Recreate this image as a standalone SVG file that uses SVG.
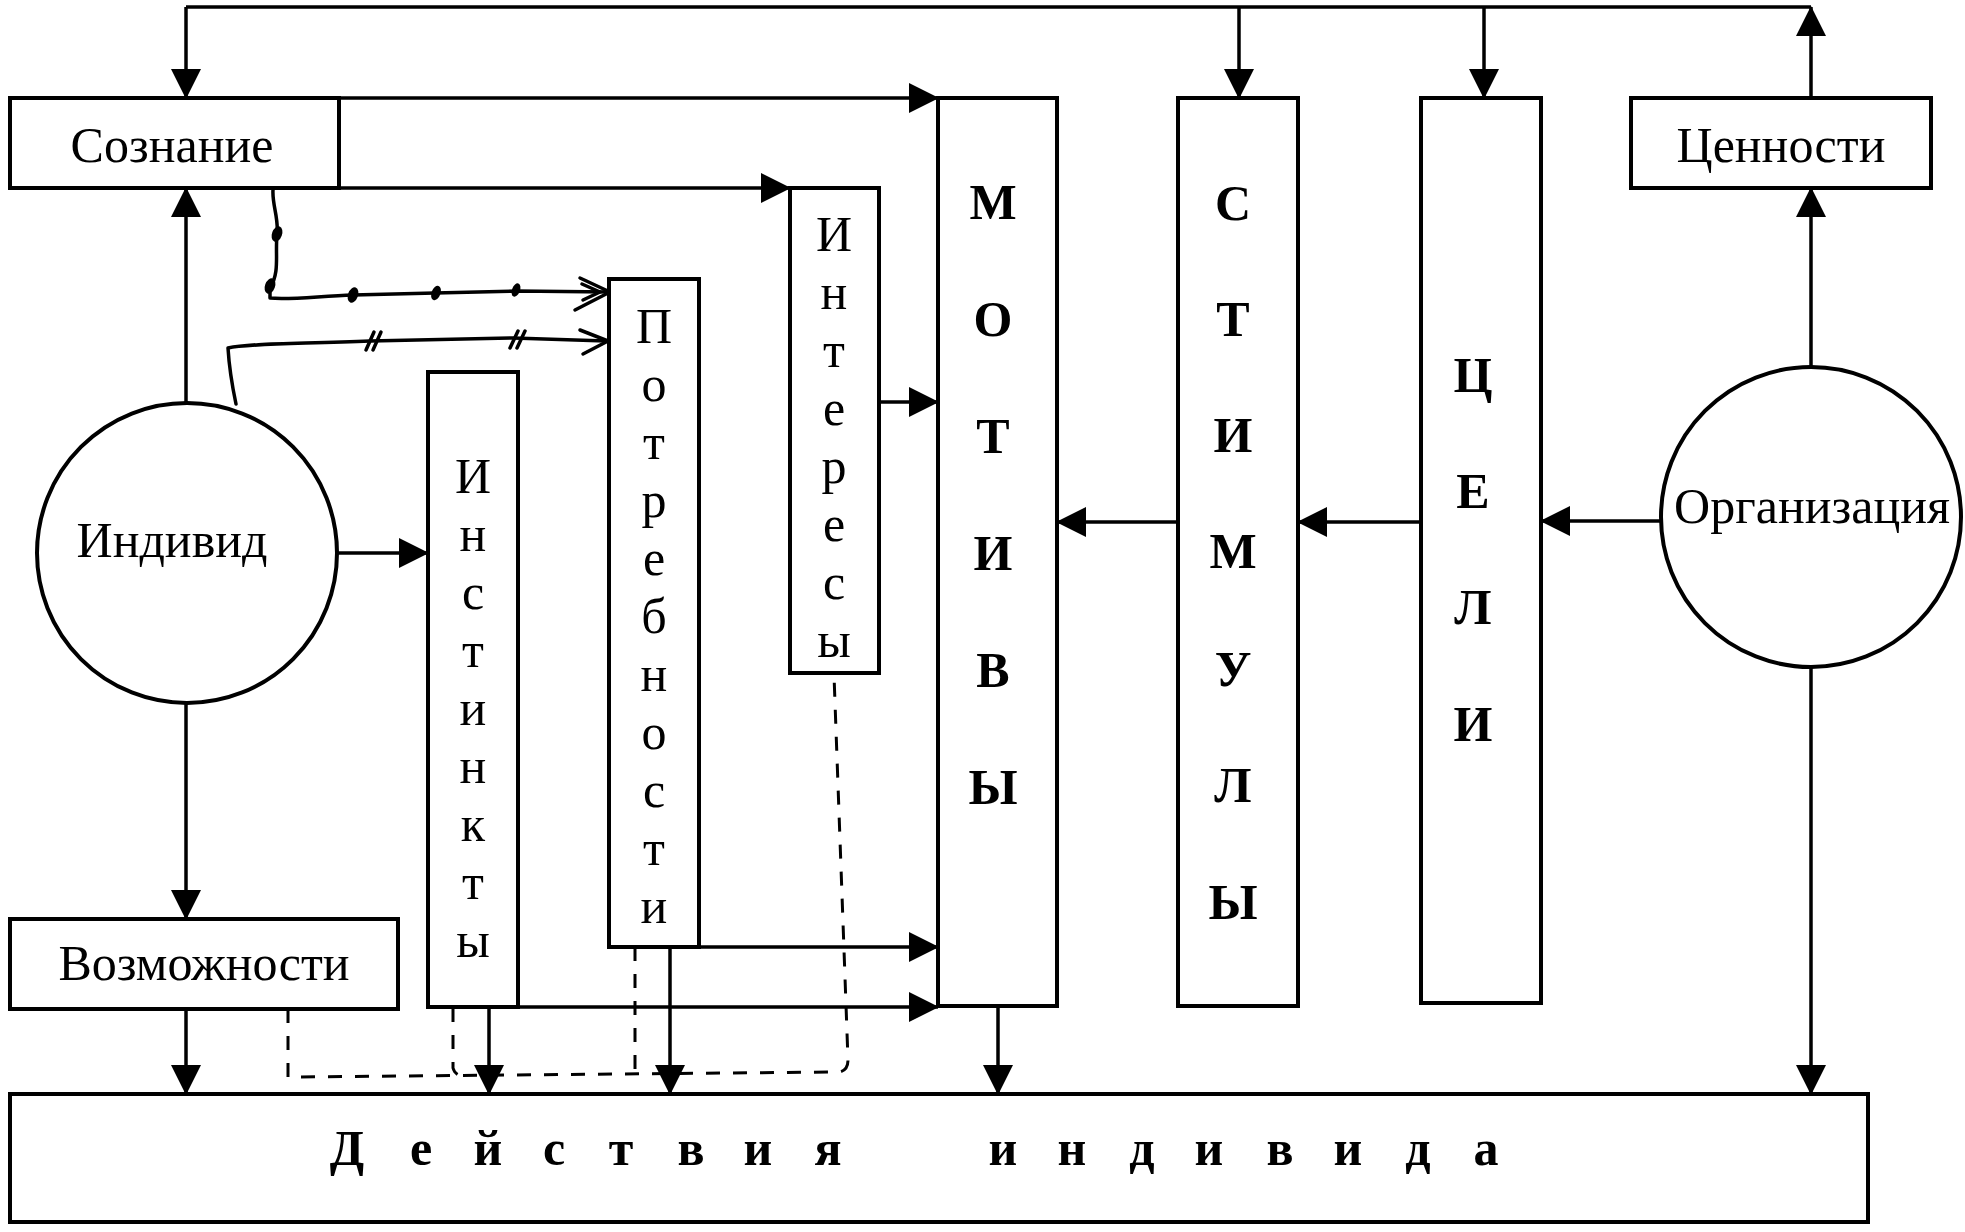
<svg xmlns="http://www.w3.org/2000/svg" width="1965" height="1232" viewBox="0 0 1965 1232">
<style>
.box{fill:#fff;stroke:#000;stroke-width:4}
.ln{fill:none;stroke:#000;stroke-width:3.5}
.hd{fill:none;stroke:#000;stroke-width:3.5;stroke-linecap:round;stroke-linejoin:round}
.dash{fill:none;stroke:#000;stroke-width:3;stroke-dasharray:14 13}
.t{font-family:"Liberation Serif","Times New Roman",serif;font-size:50px;text-anchor:middle;fill:#000}
.b{font-weight:bold}
</style>
<defs>
<marker id="ah" markerUnits="userSpaceOnUse" viewBox="0 0 30 30" markerWidth="30" markerHeight="30" refX="29" refY="15" orient="auto">
<path d="M0,0 L30,15 L0,30 z" fill="#000"/>
</marker>
</defs>
<rect width="1965" height="1232" fill="#fff"/>
<g id="connectors">
<path class="ln" d="M186,7 H1811"/>
<path class="ln" d="M186,7 V98" marker-end="url(#ah)"/>
<path class="ln" d="M1239,7 V98" marker-end="url(#ah)"/>
<path class="ln" d="M1484,7 V98" marker-end="url(#ah)"/>
<path class="ln" d="M1811,98 V7" marker-end="url(#ah)"/>
<path class="ln" d="M339,98 H938" marker-end="url(#ah)"/>
<path class="ln" d="M339,188 H790" marker-end="url(#ah)"/>
<path class="ln" d="M186,402 V188" marker-end="url(#ah)"/>
<path class="ln" d="M186,704 V919" marker-end="url(#ah)"/>
<path class="ln" d="M338,553 H428" marker-end="url(#ah)"/>
<path class="ln" d="M186,1009 V1094" marker-end="url(#ah)"/>
<path class="ln" d="M489,1008 V1094" marker-end="url(#ah)"/>
<path class="ln" d="M670,947 V1094" marker-end="url(#ah)"/>
<path class="ln" d="M998,1006 V1094" marker-end="url(#ah)"/>
<path class="ln" d="M1811,667 V1094" marker-end="url(#ah)"/>
<path class="ln" d="M1811,367 V188" marker-end="url(#ah)"/>
<path class="ln" d="M1661,521 H1541" marker-end="url(#ah)"/>
<path class="ln" d="M1421,522 H1298" marker-end="url(#ah)"/>
<path class="ln" d="M1178,522 H1057" marker-end="url(#ah)"/>
<path class="ln" d="M879,402 H938" marker-end="url(#ah)"/>
<path class="ln" d="M699,947 H938" marker-end="url(#ah)"/>
<path class="ln" d="M518,1007 H938" marker-end="url(#ah)"/>
<path class="dash" d="M288,1009 L288,1077 L840,1072 Q848,1070 848,1060 L834,675"/>
<path class="dash" d="M453,1008 L453,1068 Q455,1076 466,1077"/>
<path class="dash" d="M635,947 L635,1076"/>
<path class="hd" d="M273,190 C272,205 279,218 277,235 C275,255 280,272 270,288 L270,298 C290,300 320,296 353,295 L435,293 L516,291 L610,292"/>
<ellipse cx="277" cy="234" rx="5" ry="8" transform="rotate(20 277 234)"/>
<ellipse cx="270" cy="286" rx="5" ry="8" transform="rotate(20 270 286)"/>
<ellipse cx="353" cy="295" rx="5" ry="8" transform="rotate(20 353 295)"/>
<ellipse cx="436" cy="293" rx="4.5" ry="7.5" transform="rotate(20 436 293)"/>
<ellipse cx="516" cy="290" rx="4" ry="7" transform="rotate(20 516 290)"/>
<path class="hd" d="M580,278 L610,292 L575,310"/>
<path class="hd" d="M582,284 L600,292 L583,300"/>
<path class="hd" d="M236,404 C232,385 229,365 228,348 C250,343 300,344 370,341 L513,338 L606,341"/>
<path class="hd" d="M366,350 L374,332 M373,350 L381,332"/>
<path class="hd" d="M510,348 L518,331 M517,348 L525,331"/>
<path class="hd" d="M580,330 L608,341 L583,354"/>
</g>
<g id="soznanie">
<rect class="box" x="10" y="98" width="329" height="90"/>
<text class="t" x="172" y="162">Сознание</text>
</g>
<g id="tsennosti">
<rect class="box" x="1631" y="98" width="300" height="90"/>
<text class="t" x="1781" y="162">Ценности</text>
</g>
<g id="individ">
<circle class="box" cx="187" cy="553" r="150"/>
<text class="t" x="172" y="557">Индивид</text>
</g>
<g id="organizatsiya">
<circle class="box" cx="1811" cy="517" r="150"/>
<text class="t" x="1812" y="523">Организация</text>
</g>
<g id="vozmozhnosti">
<rect class="box" x="10" y="919" width="388" height="90"/>
<text class="t" x="204" y="980">Возможности</text>
</g>
<g id="instinkty">
<rect class="box" x="428" y="372" width="90" height="635"/>
<text class="t" x="473"><tspan x="473" y="493">И</tspan><tspan x="473" y="551">н</tspan><tspan x="473" y="609">с</tspan><tspan x="473" y="667">т</tspan><tspan x="473" y="725">и</tspan><tspan x="473" y="783">н</tspan><tspan x="473" y="841">к</tspan><tspan x="473" y="899">т</tspan><tspan x="473" y="957">ы</tspan></text>
</g>
<g id="potrebnosti">
<rect class="box" x="609" y="279" width="90" height="668"/>
<text class="t" x="654"><tspan x="654" y="343">П</tspan><tspan x="654" y="401">о</tspan><tspan x="654" y="459">т</tspan><tspan x="654" y="517">р</tspan><tspan x="654" y="575">е</tspan><tspan x="654" y="633">б</tspan><tspan x="654" y="691">н</tspan><tspan x="654" y="749">о</tspan><tspan x="654" y="807">с</tspan><tspan x="654" y="865">т</tspan><tspan x="654" y="923">и</tspan></text>
</g>
<g id="interesy">
<rect class="box" x="790" y="188" width="89" height="485"/>
<text class="t" x="834"><tspan x="834" y="251">И</tspan><tspan x="834" y="309">н</tspan><tspan x="834" y="367">т</tspan><tspan x="834" y="425">е</tspan><tspan x="834" y="483">р</tspan><tspan x="834" y="541">е</tspan><tspan x="834" y="599">с</tspan><tspan x="834" y="657">ы</tspan></text>
</g>
<g id="motivy">
<rect class="box" x="938" y="98" width="119" height="908"/>
<text class="t b" x="993"><tspan x="993" y="219">М</tspan><tspan x="993" y="336">О</tspan><tspan x="993" y="453">Т</tspan><tspan x="993" y="570">И</tspan><tspan x="993" y="687">В</tspan><tspan x="993" y="804">Ы</tspan></text>
</g>
<g id="stimuly">
<rect class="box" x="1178" y="98" width="120" height="908"/>
<text class="t b" x="1233"><tspan x="1233" y="220">С</tspan><tspan x="1233" y="336">Т</tspan><tspan x="1233" y="452">И</tspan><tspan x="1233" y="568">М</tspan><tspan x="1233" y="686">У</tspan><tspan x="1233" y="802">Л</tspan><tspan x="1233" y="919">Ы</tspan></text>
</g>
<g id="tseli">
<rect class="box" x="1421" y="98" width="120" height="905"/>
<text class="t b" x="1473"><tspan x="1473" y="392">Ц</tspan><tspan x="1473" y="508">Е</tspan><tspan x="1473" y="624">Л</tspan><tspan x="1473" y="741">И</tspan></text>
</g>
<g id="deystviya">
<rect class="box" x="10" y="1094" width="1858" height="128"/>
<text class="t b" y="1165"><tspan x="347">Д</tspan><tspan x="421">е</tspan><tspan x="488">й</tspan><tspan x="554">с</tspan><tspan x="621">т</tspan><tspan x="691">в</tspan><tspan x="758">и</tspan><tspan x="828">я</tspan><tspan x="1003">и</tspan><tspan x="1072">н</tspan><tspan x="1142">д</tspan><tspan x="1209">и</tspan><tspan x="1280">в</tspan><tspan x="1348">и</tspan><tspan x="1418">д</tspan><tspan x="1486">а</tspan></text>
</g>
</svg>
